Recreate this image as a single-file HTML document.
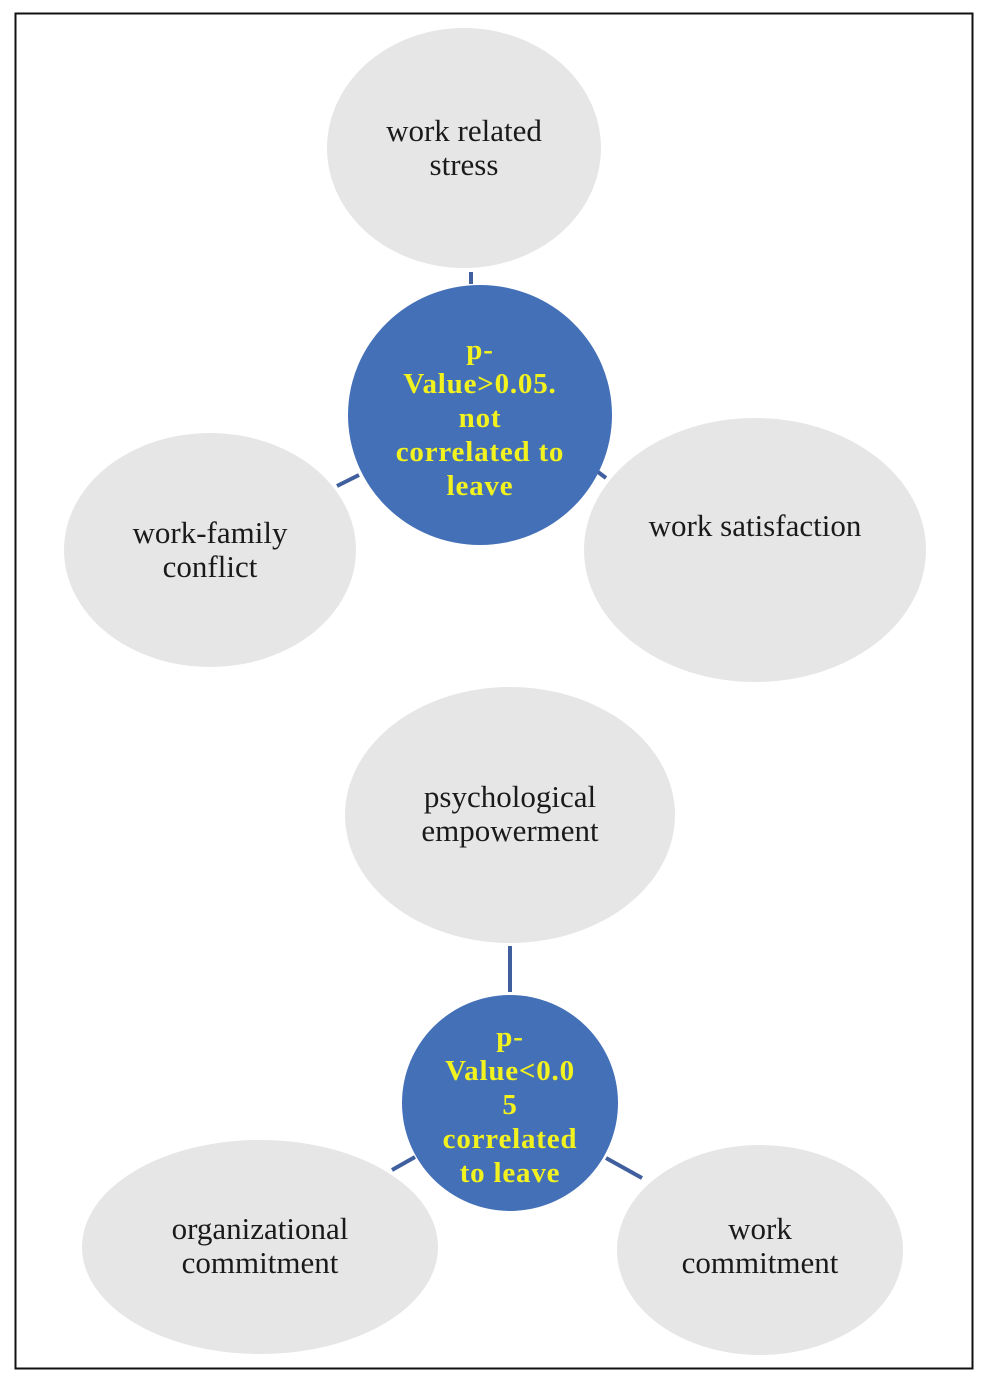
<!DOCTYPE html>
<html><head><meta charset="utf-8"><style>
html,body{margin:0;padding:0;background:#fff;}
svg{display:block;}
.t{font-family:"Liberation Serif",serif;font-size:31px;fill:#1a1a1a;text-anchor:middle;}
.b{font-family:"Liberation Serif",serif;font-size:29px;font-weight:bold;fill:#f2f21e;text-anchor:middle;letter-spacing:0.8px;}
</style></head><body>
<svg width="987" height="1383" viewBox="0 0 987 1383" xmlns="http://www.w3.org/2000/svg">
<rect x="15.5" y="13.5" width="957" height="1355" fill="#fff" stroke="#111" stroke-width="2"/>
<g stroke="#3f5f9e" stroke-width="4">
<line x1="471" y1="272" x2="471" y2="284"/>
<line x1="337" y1="486" x2="359" y2="475"/>
<line x1="598" y1="472" x2="606" y2="478"/>
<line x1="510" y1="946" x2="510" y2="992"/>
<line x1="392" y1="1170" x2="415" y2="1157"/>
<line x1="606" y1="1158" x2="642" y2="1178"/>
</g>
<g fill="#e6e6e6">
<ellipse cx="464" cy="148" rx="137" ry="120"/>
<ellipse cx="210" cy="550" rx="146" ry="117"/>
<ellipse cx="755" cy="550" rx="171" ry="132"/>
<ellipse cx="510" cy="815" rx="165" ry="128"/>
<ellipse cx="260" cy="1247" rx="178" ry="107"/>
<ellipse cx="760" cy="1250" rx="143" ry="105"/>
</g>
<g fill="#4470b8">
<ellipse cx="480" cy="415" rx="132" ry="130"/>
<ellipse cx="510" cy="1103" rx="108" ry="108"/>
</g>
<text class="t" x="464" y="141">work related</text>
<text class="t" x="464" y="175">stress</text>
<text class="t" x="210" y="543">work-family</text>
<text class="t" x="210" y="577">conflict</text>
<text class="t" x="755" y="536">work satisfaction</text>
<text class="t" x="510" y="807">psychological</text>
<text class="t" x="510" y="841">empowerment</text>
<text class="t" x="260" y="1239">organizational</text>
<text class="t" x="260" y="1273">commitment</text>
<text class="t" x="760" y="1239">work</text>
<text class="t" x="760" y="1273">commitment</text>
<text class="b" x="480" y="359">p-</text>
<text class="b" x="480" y="393">Value&gt;0.05.</text>
<text class="b" x="480" y="427">not</text>
<text class="b" x="480" y="461">correlated to</text>
<text class="b" x="480" y="495">leave</text>
<text class="b" x="510" y="1046">p-</text>
<text class="b" x="510" y="1080">Value&lt;0.0</text>
<text class="b" x="510" y="1114">5</text>
<text class="b" x="510" y="1148">correlated</text>
<text class="b" x="510" y="1182">to leave</text>
</svg>
</body></html>
